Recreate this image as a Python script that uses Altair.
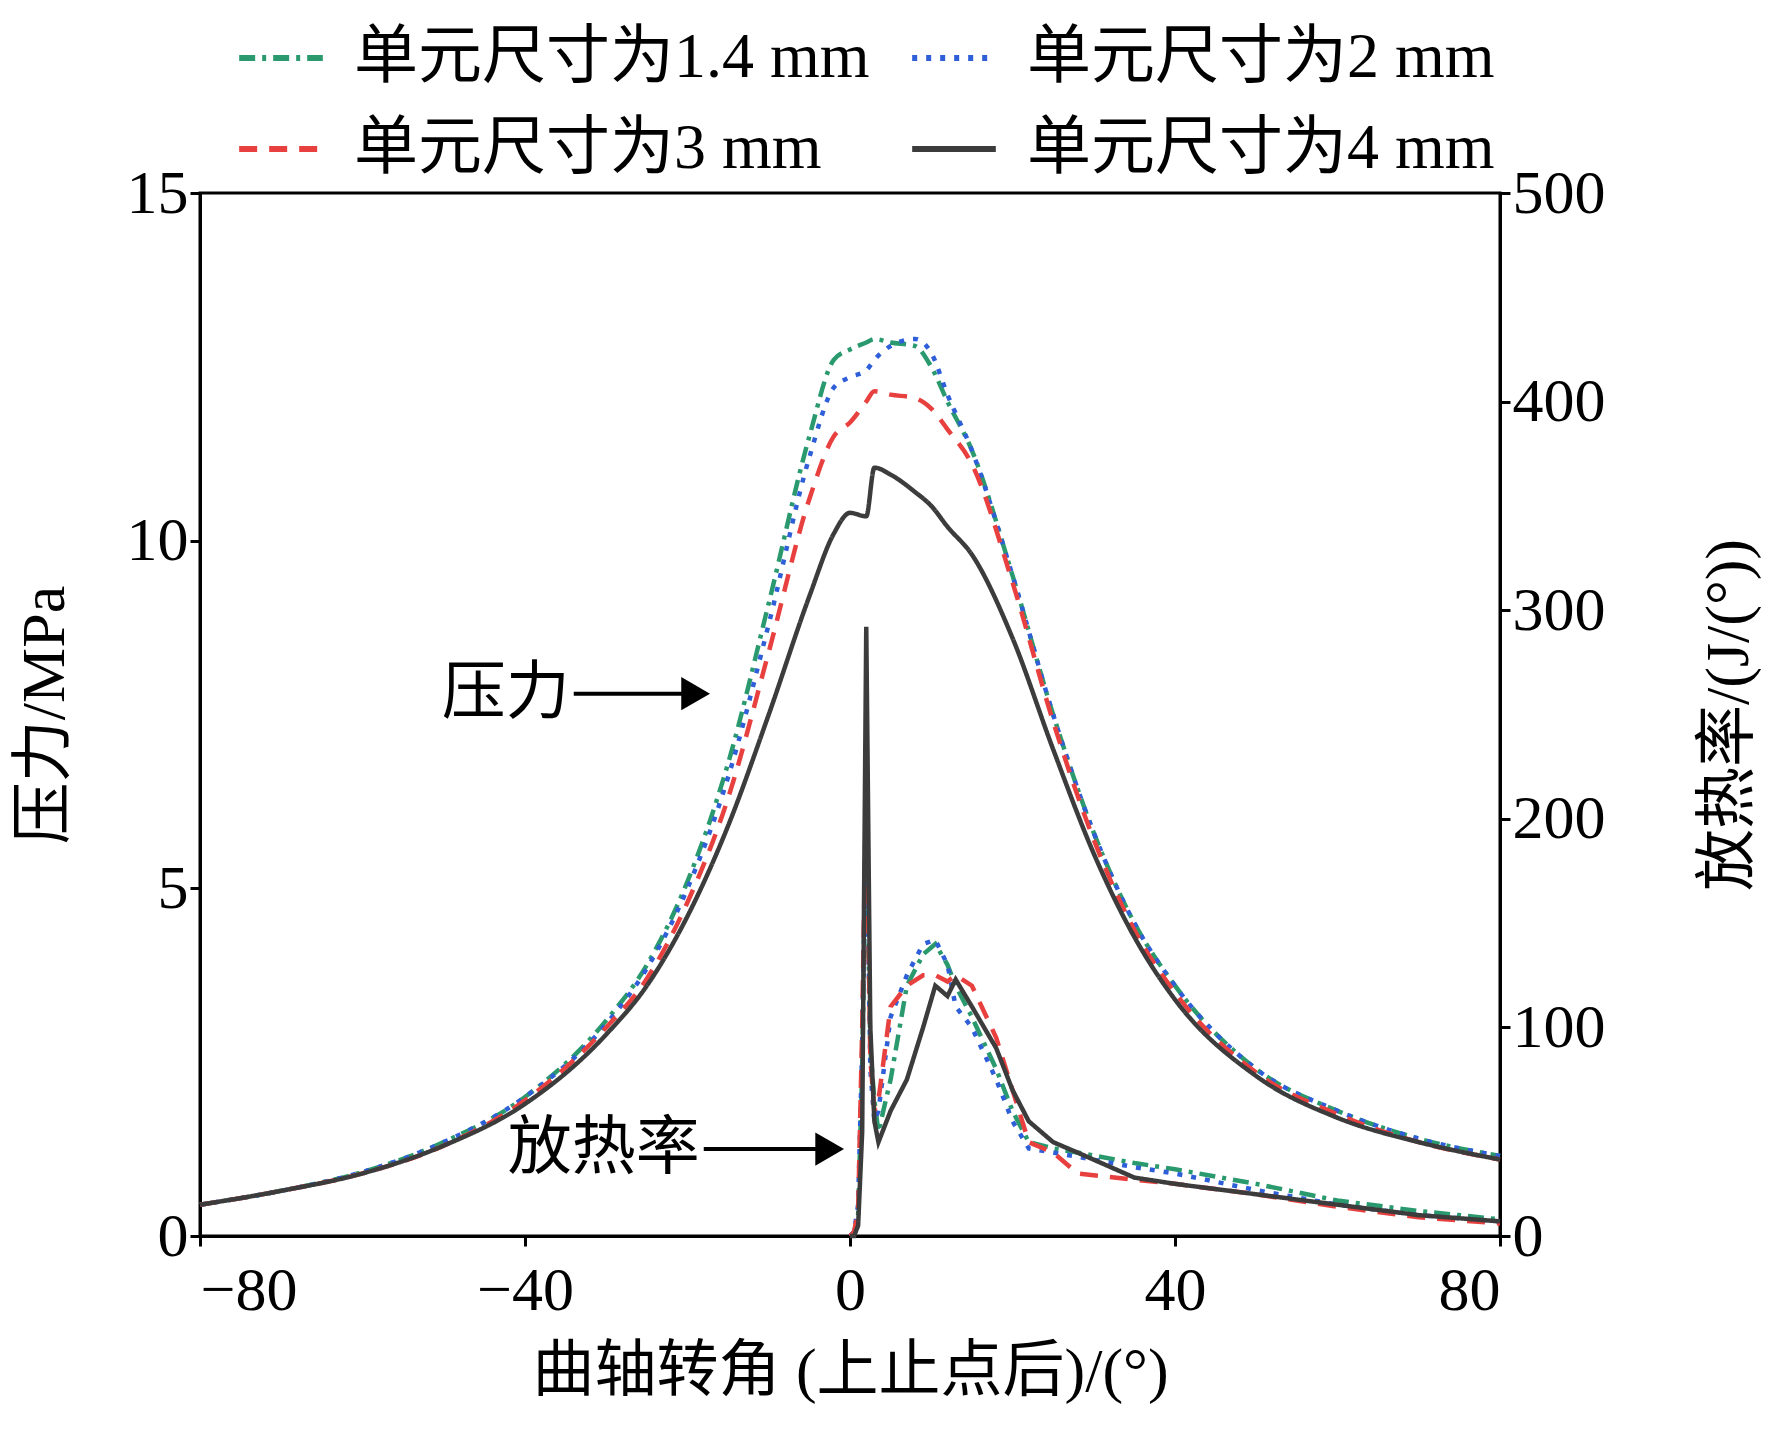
import altair as alt
import pandas as pd

series = ["单元尺寸为1.4 mm", "单元尺寸为2 mm", "单元尺寸为3 mm", "单元尺寸为4 mm"]
colors = ["#2a9a6e", "#2f5fd8", "#e8403f", "#3c3c3c"]
dashes = [[16, 7, 4, 7], [5, 9], [18, 12], [1, 0]]
# legend fills column by column, so order the domain to read row by row
leg_order = [0, 2, 1, 3]
dom = [series[i] for i in leg_order]
dom_colors = [colors[i] for i in leg_order]
dom_dashes = [dashes[i] for i in leg_order]

# pressure (MPa) vs crank angle
p_x = [-80, -70, -60, -50, -40, -30, -25, -20, -15, -10, -5, -2, 0, 2, 3, 5, 8, 10, 12, 15, 20, 25, 30, 35, 40, 50, 60, 70, 80]
p_14 = [0.45, 0.65, 0.92, 1.35, 2.0, 3.1, 3.9, 5.1, 6.8, 9.1, 11.5, 12.6, 12.75, 12.85, 12.9, 12.85, 12.8, 12.5, 12.0, 11.3, 9.5, 7.5, 5.8, 4.5, 3.6, 2.4, 1.8, 1.4, 1.15]
p_2 = [0.45, 0.65, 0.92, 1.35, 2.0, 3.05, 3.85, 5.0, 6.6, 8.8, 11.2, 12.2, 12.35, 12.45, 12.6, 12.8, 12.9, 12.7, 12.1, 11.3, 9.5, 7.5, 5.8, 4.5, 3.6, 2.4, 1.8, 1.4, 1.15]
p_3 = [0.45, 0.65, 0.9, 1.3, 1.95, 3.0, 3.7, 4.8, 6.3, 8.4, 10.6, 11.5, 11.7, 12.0, 12.15, 12.1, 12.05, 11.9, 11.6, 11.1, 9.4, 7.4, 5.7, 4.4, 3.5, 2.35, 1.75, 1.35, 1.1]
p_4 = [0.45, 0.65, 0.9, 1.3, 1.9, 2.9, 3.6, 4.6, 5.9, 7.5, 9.2, 10.1, 10.4, 10.35, 11.05, 10.95, 10.7, 10.5, 10.2, 9.8, 8.6, 7.0, 5.5, 4.3, 3.4, 2.3, 1.7, 1.35, 1.1]

# heat release rate (J/deg)
h_x = [0, 0.5, 1, 1.5, 2, 2.5, 3, 3.5, 5, 7, 9, 10.5, 12, 13, 15, 18, 20, 22, 25, 28, 35, 40, 50, 60, 70, 80]
h_14 = [0, 2, 10, 80, 200, 90, 65, 50, 75, 120, 135, 140, 130, 120, 105, 80, 60, 45, 42, 40, 35, 32, 25, 17, 12, 8]
h_2 = [0, 2, 15, 90, 210, 80, 55, 60, 105, 125, 140, 142, 130, 110, 100, 75, 55, 42, 40, 38, 33, 30, 22, 15, 10, 7]
h_3 = [0, 2, 12, 100, 220, 85, 60, 65, 110, 120, 125, 125, 122, 125, 120, 95, 70, 45, 40, 30, 27, 25, 20, 14, 9, 6]
h_4 = [0, 0, 5, 50, 292, 100, 55, 45, 60, 75, 100, 120, 115, 123, 110, 90, 70, 55, 45, 40, 28, 25, 20, 15, 10, 7]

pdf = pd.concat([pd.DataFrame({"x": p_x, "p": v, "s": s, "o": range(len(p_x))}) for s, v in zip(series, [p_14, p_2, p_3, p_4])])
hdf = pd.concat([pd.DataFrame({"x": h_x, "h": v, "s": s, "o": range(len(h_x))}) for s, v in zip(series, [h_14, h_2, h_3, h_4])])

font = "Liberation Serif, Noto Sans CJK SC"
fs = 62
xsc = alt.Scale(domain=[-80, 80], nice=False)
ysc = alt.Scale(domain=[0, 15], nice=False)
col = alt.Color("s:N", scale=alt.Scale(domain=dom, range=dom_colors),
                legend=alt.Legend(title=None, orient="none", legendX=36, legendY=-180, columns=2,
                                  symbolType="stroke", symbolSize=7000, symbolStrokeWidth=6,
                                  labelFontSize=64, labelFont=font, columnPadding=30, rowPadding=14,
                                  labelLimit=800, labelOffset=28, padding=0))
dash = alt.StrokeDash("s:N", scale=alt.Scale(domain=dom, range=dom_dashes), legend=None)

common = dict(labelFontSize=fs, titleFontSize=fs, labelFont=font, titleFont=font, grid=False,
              tickSize=10, tickColor="black", domainColor="black", labelColor="black",
              titleColor="black", titleFontWeight="normal")
xax = alt.Axis(values=[-80, -40, 0, 40, 80], title="曲轴转角 (上止点后)/(°)", labelPadding=14,
               titlePadding=20, **common)

pres = alt.Chart(pdf).mark_line(strokeWidth=4.5, interpolate="monotone").encode(
    x=alt.X("x:Q", scale=xsc, axis=xax),
    y=alt.Y("p:Q", scale=ysc,
            axis=alt.Axis(values=[0, 5, 10, 15], format="d", title="压力/MPa", titlePadding=50, **common)),
    color=col, strokeDash=dash, order="o:Q")

heat = alt.Chart(hdf).mark_line(strokeWidth=4.5).encode(
    x=alt.X("x:Q", scale=xsc),
    y=alt.Y("h:Q", scale=alt.Scale(domain=[0, 500], nice=False),
            axis=alt.Axis(orient="right", values=[0, 100, 200, 300, 400, 500], title="放热率/(J/(°))",
                          titleAngle=270, titleBaseline="bottom", titlePadding=155, **common)),
    color=alt.Color("s:N", scale=alt.Scale(domain=dom, range=dom_colors), legend=None),
    strokeDash=dash, order="o:Q")

ann = pd.DataFrame({"x": [-34.5, -18.5], "y": [7.8, 1.25], "t": ["压力", "放热率"],
                    "x1": [-34, -18], "x2": [-19, -2.5], "ya": [7.8, 1.25]})
txt = alt.Chart(ann).mark_text(fontSize=64, font=font, align="right", color="black").encode(
    x=alt.X("x:Q", scale=xsc), y=alt.Y("y:Q", scale=ysc), text="t:N")
arrow = alt.Chart(ann).mark_rule(strokeWidth=4, color="black").encode(
    x=alt.X("x1:Q", scale=xsc), x2="x2:Q", y=alt.Y("ya:Q", scale=ysc))
head = alt.Chart(ann).mark_point(shape="triangle-right", size=1100, filled=True, color="black", opacity=1).encode(
    x=alt.X("x2:Q", scale=xsc), y=alt.Y("ya:Q", scale=ysc))

left = alt.layer(pres, txt, arrow, head)
chart = alt.layer(left, heat).resolve_scale(y="independent", color="independent", strokeDash="independent").properties(
    width=1300, height=1043, background="white"
).configure_view(stroke="black", strokeWidth=3).configure_axis(domainWidth=3, tickWidth=3)

chart.save("out.html", embed_options={"renderer": "svg", "actions": False})
